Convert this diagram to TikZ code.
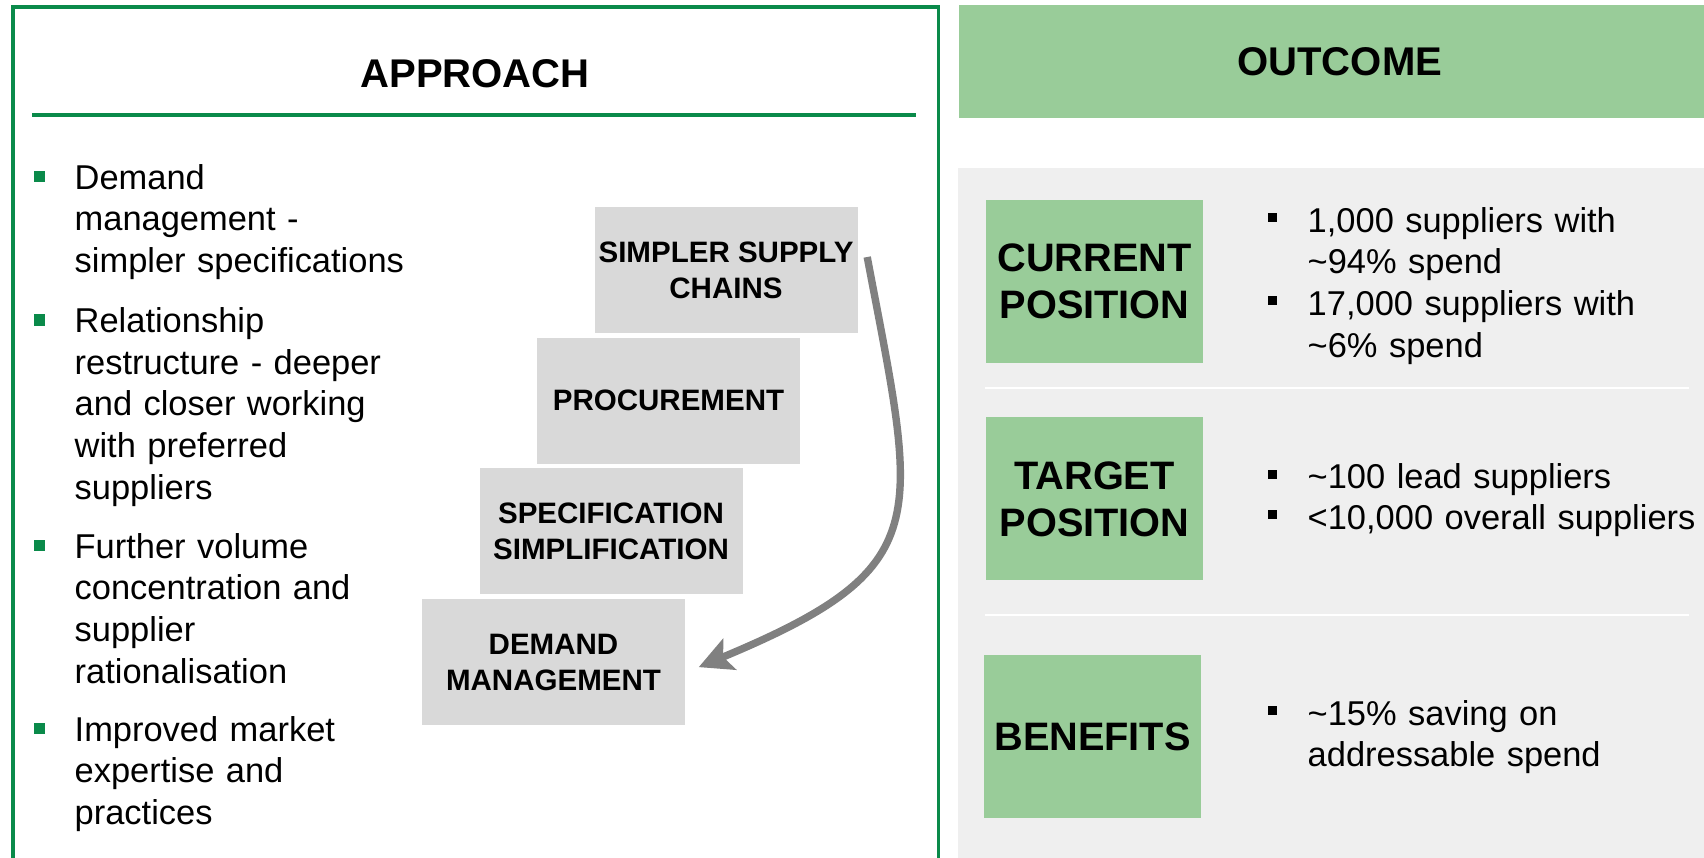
\documentclass[tikz,border=0pt]{standalone}
\usepackage{fontspec}
\setmainfont{Liberation Sans}
\usetikzlibrary{arrows.meta,positioning}
\definecolor{framegreen}{RGB}{10,138,74}
\definecolor{lightgreen}{RGB}{153,204,153}
\definecolor{stepgray}{RGB}{217,217,217}
\definecolor{panelgray}{RGB}{239,239,239}
\definecolor{arrowgray}{RGB}{128,128,128}

\begin{document}
\begin{tikzpicture}[
    head/.style={font=\fontsize{11.4}{13.4}\selectfont\bfseries},
    items/.style={text width=4cm, align=left, inner sep=0pt, anchor=base west, font=\fontsize{9.8}{11.86}\selectfont},
    stepbox/.style={fill=stepgray, minimum width=2.63cm, minimum height=1.26cm, inner sep=0pt, align=center, font=\fontsize{8.4}{10.2}\selectfont\bfseries},
    labelbox/.style={fill=lightgreen, minimum width=2.17cm, minimum height=1.63cm, inner sep=0pt, align=center, font=\fontsize{11.3}{13.4}\selectfont\bfseries},
    gbullet/.style={minimum size=1.15mm, inner sep=0pt, fill=framegreen, node contents={}},
    kbullet/.style={minimum size=0.9mm, inner sep=0pt, fill=black, node contents={}}]
    \useasboundingbox (0,0) rectangle (17.04,-8.57);

    \draw[framegreen, line width=0.95pt] (0.13,-8.7) |- (9.385,-0.07) -- (9.385,-8.7);
    \node[head] (approach) at (4.75,-0.74) {APPROACH};
    \draw[framegreen, line width=1.1pt] (0.32,-1.15) -- (9.16,-1.15);

    \node[items] (demand_item) at (0.74,-1.89) {Demand\\management -\\simpler specifications};
    \node[items] (relation_item) at (0.74,-3.325) {Relationship\\restructure - deeper\\and closer working\\with preferred\\suppliers};
    \node[items] (volume_item) at (0.74,-5.58) {Further volume\\concentration and\\supplier\\rationalisation};
    \node[items] (market_item) at (0.74,-7.41) {Improved market\\expertise and\\practices};
    \foreach \entry in {demand_item, relation_item, volume_item, market_item}
        \path ([xshift=-3.45mm, yshift=1.25mm]\entry.base west) node[gbullet];

    \node[stepbox] (simpler_supply) at (7.26,-2.70) {SIMPLER SUPPLY\\CHAINS};
    \node[stepbox, below=0.033cm of simpler_supply, xshift=-0.575cm] (procurement) {PROCUREMENT};
    \node[stepbox, below=0.033cm of procurement, xshift=-0.575cm] (spec_simpl) {SPECIFICATION\\SIMPLIFICATION};
    \node[stepbox, below=0.033cm of spec_simpl, xshift=-0.575cm] (demand_mgmt) {DEMAND\\MANAGEMENT};

    \draw[arrowgray, line width=2.1pt, -{Stealth[length=9.5pt, width=9.5pt, inset=2pt]}]
    ([xshift=0.09cm, yshift=0.13cm]simpler_supply.east) .. controls +(0.5,-2.65) and +(2.4,1.0) .. ([xshift=0.13cm, yshift=-0.05cm]demand_mgmt.east);

    \node[fill=lightgreen, minimum width=7.62cm, minimum height=1.13cm, inner sep=0pt, head, anchor=north west] (outcome) at (9.58,-0.04) {OUTCOME};
    \fill[panelgray] (9.58,-1.68) rectangle (17.2,-8.7);
    \draw[white, line width=0.6pt] (9.85,-3.88) -- (16.89,-3.88) (9.85,-6.15) -- (16.89,-6.15);

    \node[labelbox] (current_pos) at (10.945,-2.815) {CURRENT\\POSITION};
    \node[labelbox, below=0.53cm of current_pos] (target_pos) {TARGET\\POSITION};
    \node[labelbox, below=0.73cm of target_pos, xshift=-0.02cm] (benefits) {BENEFITS};

    \node[items] (current_list) at (13.07,-2.32) {1,000 suppliers with\\\textasciitilde 94\% spend\\17,000 suppliers with\\\textasciitilde 6\% spend};
    \node[items] (target_list) at (13.07,-4.88) {\textasciitilde 100 lead suppliers\\<10,000 overall suppliers};
    \node[items] (benefit_list) at (13.07,-7.25) {\textasciitilde 15\% saving on\\addressable spend};
    \foreach \lst/\dy in {current_list/1.45mm, current_list/-6.85mm, target_list/1.4mm, target_list/-2.6mm, benefit_list/1.45mm}
        \path ([xshift=-3.5mm, yshift=\dy]\lst.base west) node[kbullet];
\end{tikzpicture}
\end{document}
